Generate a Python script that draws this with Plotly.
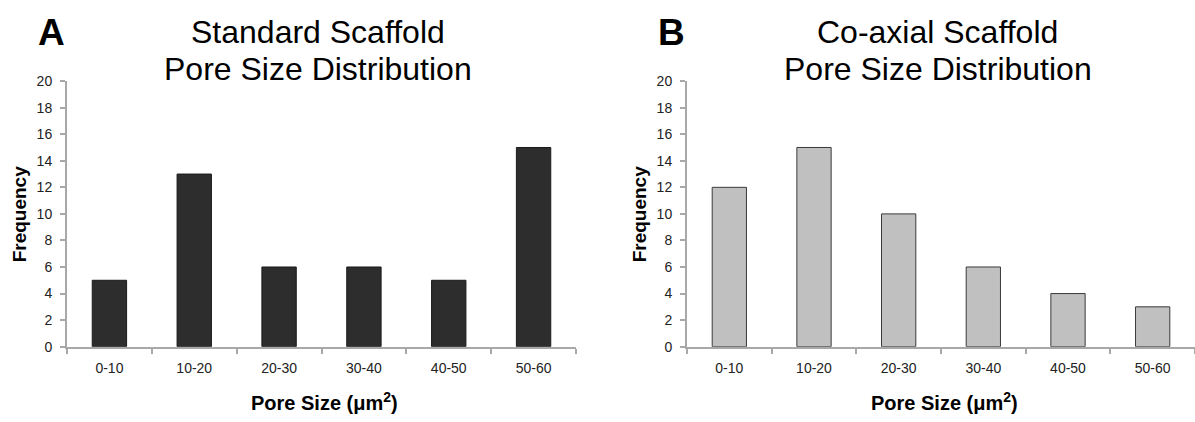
import plotly.graph_objects as go

categories = ["0-10", "10-20", "20-30", "30-40", "40-50", "50-60"]
standard_freq = [5, 13, 6, 6, 5, 15]
coaxial_freq = [12, 15, 10, 6, 4, 3]
y_ticks = list(range(0, 21, 2))

W, H = 1195, 422
FONT = "Liberation Sans, Arial, sans-serif"


def fx(xp):
    return xp / W


def fy(yp):
    return 1 - yp / H


fig = go.Figure()
fig.add_trace(go.Bar(x=categories, y=standard_freq, xaxis="x", yaxis="y",
                     marker=dict(color="#2d2d2d", line=dict(color="#1a1a1a", width=1)),
                     showlegend=False))
fig.add_trace(go.Bar(x=categories, y=coaxial_freq, xaxis="x2", yaxis="y2",
                     marker=dict(color="#c0c0c0", line=dict(color="#3a3a3a", width=1)),
                     showlegend=False))

left_dom = [fx(67), fx(576)]
right_dom = [fx(687), 1.0]
y_dom = [fy(352), fy(76)]

axis_common = dict(showline=True, linecolor="#a8a8a8", linewidth=2,
                   ticks="outside", tickcolor="#a8a8a8", ticklen=5, tickwidth=1.5,
                   showgrid=False, zeroline=False,
                   tickfont=dict(family=FONT, size=14, color="#222222"))

fig.update_layout(
    width=W, height=H,
    margin=dict(l=0, r=0, t=0, b=0),
    paper_bgcolor="white", plot_bgcolor="white",
    bargap=0.595,
    xaxis=dict(domain=left_dom, anchor="y", tickson="boundaries",
               range=[-0.5, 5.5], ticklabelstandoff=8, **axis_common),
    yaxis=dict(domain=y_dom, anchor="x", range=[0, 20], tickvals=y_ticks,
               ticklabelstandoff=5, **axis_common),
    xaxis2=dict(domain=right_dom, anchor="y2", tickson="boundaries",
                range=[-0.5, 5.5], ticklabelstandoff=8, **axis_common),
    yaxis2=dict(domain=y_dom, anchor="x2", range=[0, 20], tickvals=y_ticks,
                ticklabelstandoff=5, **axis_common),
)


def ann(text, xp, yp, size, angle=0):
    return dict(text=text, x=fx(xp), y=fy(yp), xref="paper", yref="paper",
                xanchor="center", yanchor="middle", showarrow=False, textangle=angle,
                font=dict(family=FONT, size=size, color="black"))


annotations = []
for (x0, x1), line1, letter, lx in [
    ((67, 576), "Standard Scaffold", "A", 51),
    ((687, 1195), "Co-axial Scaffold", "B", 671),
]:
    mid = (x0 + x1) / 2
    annotations.append(ann(line1, mid - 3.5, 25, 32))
    annotations.append(ann("Pore Size Distribution", mid - 3.5, 63, 32))
    annotations.append(ann("<b>" + letter + "</b>", lx, 25, 37))
    annotations.append(ann("<b>Pore Size (\u03bcm<sup>2</sup>)</b>", mid + 3, 409, 20))
    annotations.append(ann("<b>Frequency</b>", x0 - 48, 214.5, 19, -90))
fig.update_layout(annotations=annotations)

fig.write_html("out.html",
               config={"displayModeBar": False},
               post_script="document.body.style.margin='0';"
                           "document.body.style.overflow='hidden';")
